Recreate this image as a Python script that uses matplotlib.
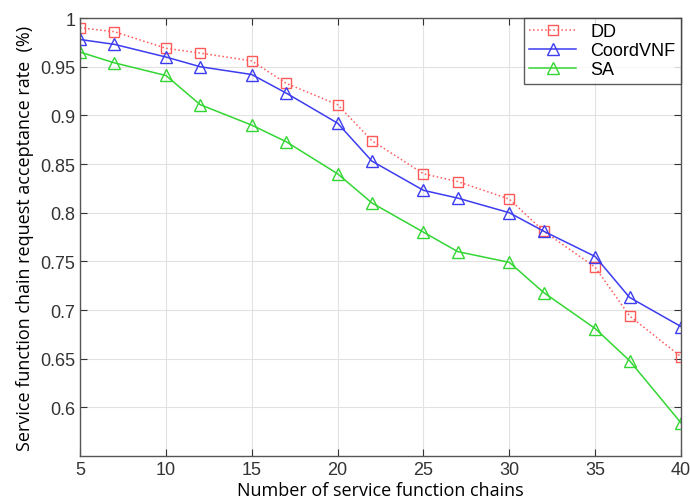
import matplotlib
matplotlib.use("Agg")
import matplotlib.pyplot as plt

x = [5, 7, 10, 12, 15, 17, 20, 22, 25, 27, 30, 32, 35, 37, 40]
dd = [0.990, 0.986, 0.969, 0.964, 0.956, 0.933, 0.911, 0.874, 0.840, 0.832, 0.814, 0.781, 0.744, 0.694, 0.652]
coord = [0.978, 0.973, 0.960, 0.950, 0.942, 0.923, 0.892, 0.853, 0.823, 0.815, 0.800, 0.781, 0.755, 0.713, 0.683]
sa = [0.965, 0.954, 0.941, 0.911, 0.890, 0.873, 0.840, 0.810, 0.780, 0.760, 0.749, 0.718, 0.681, 0.648, 0.584]
xticks = [5, 10, 15, 20, 25, 30, 35, 40]
yticks = [0.6, 0.65, 0.7, 0.75, 0.8, 0.85, 0.9, 0.95, 1.0]
ytick_labels = ["0.6", "0.65", "0.7", "0.75", "0.8", "0.85", "0.9", "0.95", "1"]

plt.rcParams['font.family'] = ['Liberation Sans', 'DejaVu Sans']
fig = plt.figure(figsize=(6.9, 5.02), dpi=100)
ax = fig.add_axes([0.116, 0.0896, 0.871, 0.8724])

ax.plot(x, dd, color='#ff5a5a', linestyle=':', linewidth=1.1, marker='s', markersize=7.5,
        markerfacecolor='none', markeredgecolor='#ff5a5a', markeredgewidth=1.0, label='DD')
ax.plot(x, coord, color='#3c3cf0', linestyle='-', linewidth=1.1, marker='^', markersize=9,
        markerfacecolor='none', markeredgecolor='#3c3cf0', markeredgewidth=1.0, label='CoordVNF')
ax.plot(x, sa, color='#33d633', linestyle='-', linewidth=1.1, marker='^', markersize=9,
        markerfacecolor='none', markeredgecolor='#33d633', markeredgewidth=1.0, label='SA')

ax.set_xlim(5, 40)
ax.set_ylim(0.55, 1.0)
ax.set_xticks(xticks)
ax.set_yticks(yticks)
ax.set_yticklabels(ytick_labels)
ax.tick_params(direction='in', top=True, right=True, labelsize=13, colors='#333333', length=5)
ax.grid(True, color='#e2e2e2', linewidth=0.8)
for s in ax.spines.values():
    s.set_color('#555555')
    s.set_linewidth(1.0)

ax.set_xlabel('Number of service function chains', fontsize=13, family=['Open Sans', 'DejaVu Sans'], labelpad=2)
ax.set_ylabel('Service function chain request acceptance rate  (%)', fontsize=13,
              family=['Open Sans', 'DejaVu Sans'], labelpad=4)

leg = ax.legend(loc='upper right', fontsize=13, frameon=True, fancybox=False, borderpad=0.3,
                handlelength=2.6, labelspacing=0.1, borderaxespad=0)
leg.get_frame().set_edgecolor('#333333')
leg.get_frame().set_linewidth(1.0)

fig.savefig('out.png', dpi=100)
